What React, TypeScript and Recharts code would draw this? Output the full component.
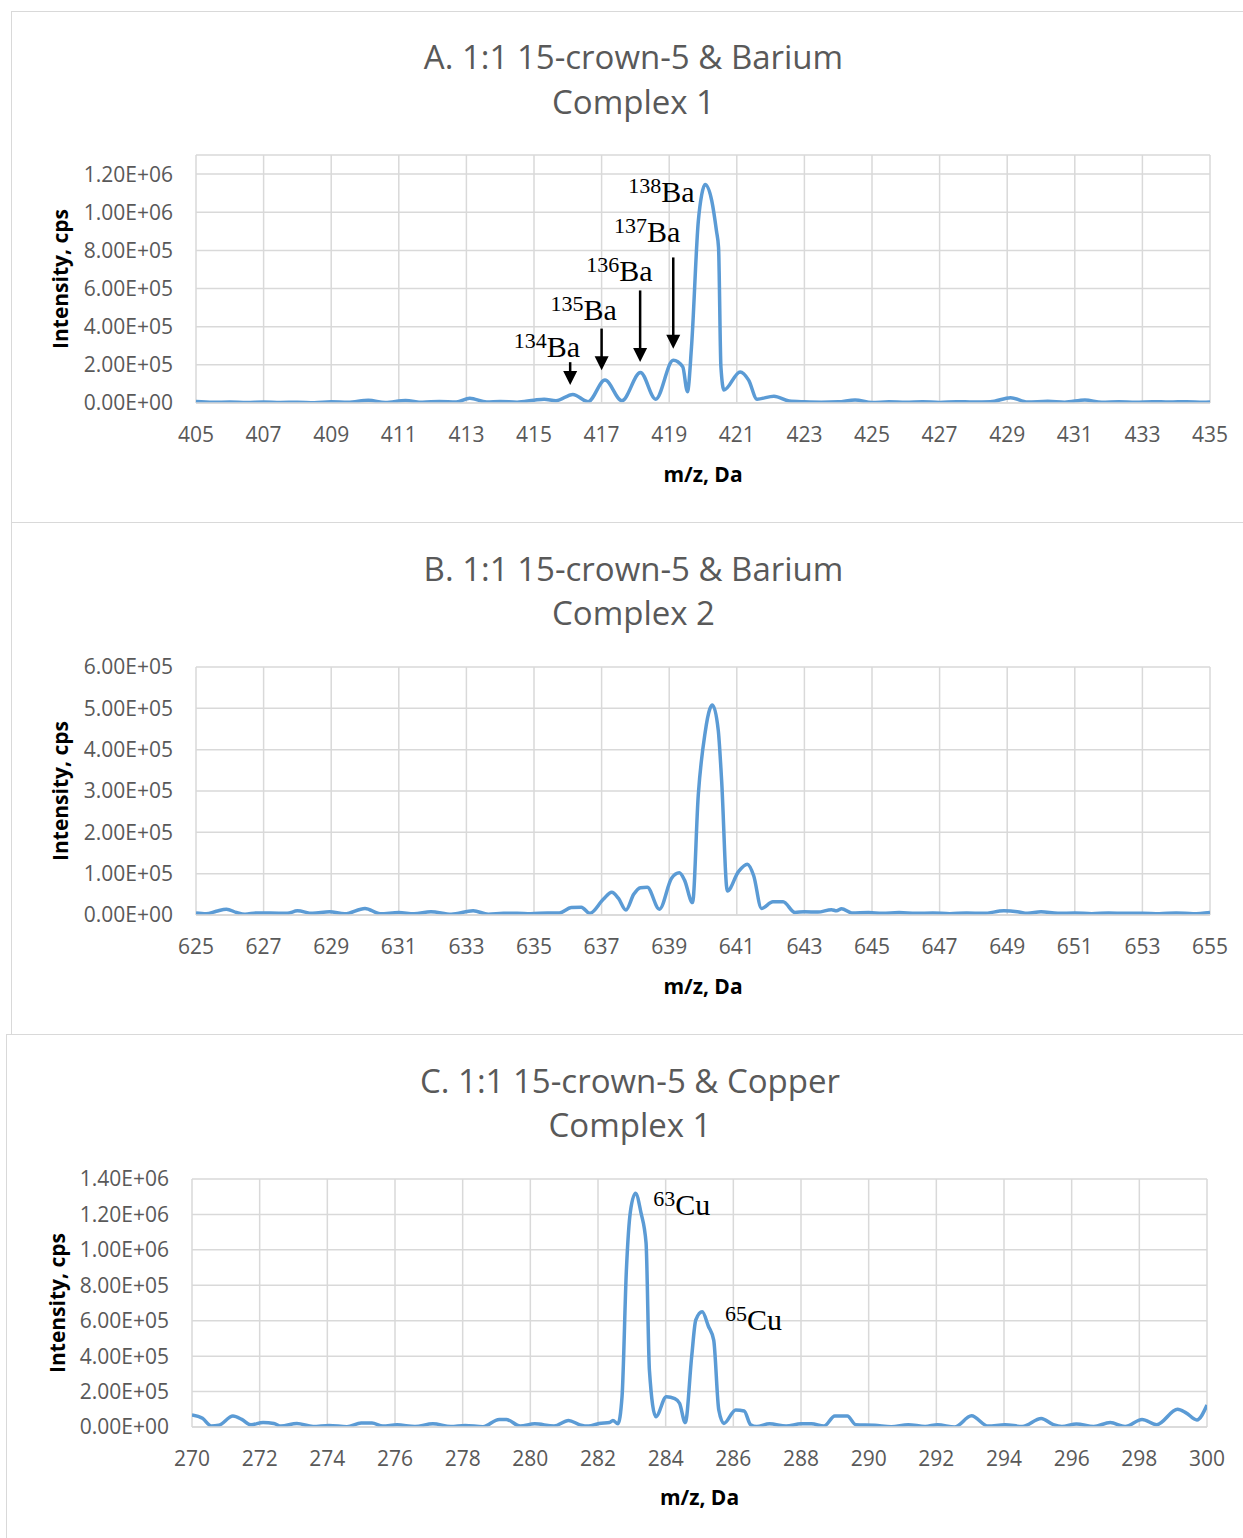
import React from 'react';
import { LineChart, Line, XAxis, YAxis, CartesianGrid, ReferenceLine, ReferenceDot } from 'recharts';

// Panel A: 15-crown-5 + Ba, complex 1
const mzA = [405.0, 405.5, 406.0, 406.5, 407.0, 407.5, 408.0, 408.5, 409.0, 409.5, 410.1, 410.6, 411.2, 411.7, 412.2, 412.7, 413.1, 413.6, 414.0, 414.5, 415.0, 415.3, 415.65, 416.15, 416.6, 417.1, 417.6, 418.15, 418.6, 419.12, 419.4, 419.54, 419.66, 419.86, 419.96, 420.06, 420.26, 420.4, 420.46, 420.53, 420.62, 421.1, 421.35, 421.6, 422.1, 422.55, 423.0, 423.5, 424.0, 424.5, 425.0, 425.5, 426.0, 426.5, 427.0, 427.5, 428.0, 428.5, 429.1, 429.6, 430.2, 430.7, 431.3, 431.8, 432.3, 432.8, 433.3, 433.8, 434.3, 434.8, 435.0];
const intA = [8000, 4000, 5000, 3000, 5000, 3000, 4000, 1000, 6000, 4000, 14000, 3000, 13000, 4000, 8000, 5000, 25000, 5000, 8000, 4000, 15000, 20000, 12000, 45000, 7000, 120000, 12000, 160000, 20000, 224000, 190000, 59000, 294000, 950000, 1090000, 1146000, 1060000, 900000, 815000, 190000, 68000, 163000, 120000, 20000, 36000, 10000, 6000, 4000, 6000, 16000, 3000, 6000, 4000, 7000, 3000, 7000, 5000, 6000, 28000, 5000, 9000, 4000, 16000, 4000, 7000, 4000, 7000, 5000, 7000, 4000, 5000];

// Panel B: 15-crown-5 + Ba, complex 2
const mzB = [625.0, 625.3, 625.6, 625.9, 626.2, 626.45, 626.8, 627.2, 627.7, 628.0, 628.45, 628.95, 629.4, 630.0, 630.45, 631.0, 631.45, 631.95, 632.55, 633.2, 633.65, 634.1, 634.5, 634.9, 635.4, 635.75, 636.1, 636.4, 636.65, 637.05, 637.3, 637.5, 637.72, 637.95, 638.15, 638.35, 638.71, 639.07, 639.3, 639.45, 639.69, 639.86, 640.06, 640.2, 640.28, 640.45, 640.55, 640.72, 641.05, 641.31, 641.5, 641.73, 642.07, 642.37, 642.72, 643.0, 643.4, 643.8, 643.95, 644.1, 644.4, 644.9, 645.3, 645.8, 646.3, 646.8, 647.3, 647.8, 648.3, 648.9, 649.3, 649.6, 650.0, 650.5, 651.0, 651.5, 652.0, 652.5, 653.0, 653.5, 654.0, 654.5, 655.0];
const intB = [5000, 3000, 9000, 14000, 6000, 2000, 5000, 5000, 4000, 10000, 4000, 8000, 3000, 16000, 3000, 6000, 3000, 8000, 2000, 10000, 2000, 4000, 4000, 3000, 5000, 5000, 18000, 19000, 4000, 38000, 55000, 40000, 12000, 50000, 66000, 67000, 14000, 89000, 102000, 85000, 30000, 290000, 440000, 498000, 508000, 448000, 327000, 58000, 105000, 123000, 95000, 16000, 32000, 32000, 6000, 8000, 7000, 13000, 10000, 15000, 5000, 6000, 4000, 6000, 4000, 5000, 3000, 5000, 4000, 10000, 8000, 4000, 8000, 4000, 5000, 3000, 5000, 4000, 4000, 3000, 5000, 3000, 6000];

// Panel C: 15-crown-5 + Cu, complex 1
const mzC = [270.0, 270.31, 270.57, 270.79, 271.21, 271.47, 271.74, 272.1, 272.42, 272.63, 273.1, 273.58, 274.05, 274.58, 275.0, 275.32, 275.64, 276.06, 276.59, 277.12, 277.65, 278.07, 278.6, 279.08, 279.29, 279.7, 280.13, 280.7, 281.13, 281.47, 281.72, 282.03, 282.34, 282.44, 282.59, 282.71, 282.84, 282.96, 283.11, 283.27, 283.42, 283.52, 283.71, 284.02, 284.27, 284.41, 284.58, 284.77, 284.89, 285.08, 285.26, 285.42, 285.57, 285.72, 286.07, 286.32, 286.51, 286.69, 287.07, 287.56, 288.0, 288.31, 288.68, 289.0, 289.37, 289.62, 290.18, 290.67, 291.17, 291.67, 292.04, 292.54, 293.04, 293.53, 294.03, 294.54, 295.1, 295.46, 295.71, 296.14, 296.65, 297.14, 297.58, 298.08, 298.51, 299.13, 299.38, 299.7, 300.0];
const intC = [68000, 49000, 6000, 10000, 62000, 43000, 12000, 26000, 20000, 5000, 20000, 3000, 9000, 2000, 22000, 22000, 5000, 12000, 3000, 18000, 3000, 9000, 2000, 43000, 43000, 5000, 18000, 6000, 37000, 12000, 5000, 20000, 25000, 37000, 18000, 170000, 890000, 1220000, 1320000, 1210000, 1040000, 320000, 58000, 171000, 160000, 134000, 25000, 400000, 604000, 650000, 570000, 490000, 96000, 20000, 96000, 90000, 13000, 3000, 18000, 5000, 18000, 18000, 5000, 62000, 62000, 13000, 10000, 2000, 13000, 3000, 13000, 0, 63000, 5000, 13000, 3000, 48000, 13000, 3000, 17000, 3000, 25000, 3000, 43000, 13000, 100000, 80000, 40000, 124000];

const xTicksA = [405, 407, 409, 411, 413, 415, 417, 419, 421, 423, 425, 427, 429, 431, 433, 435];
const xTicksB = [625, 627, 629, 631, 633, 635, 637, 639, 641, 643, 645, 647, 649, 651, 653, 655];
const xTicksC = [270, 272, 274, 276, 278, 280, 282, 284, 286, 288, 290, 292, 294, 296, 298, 300];
const yTicksA = [0, 200000, 400000, 600000, 800000, 1000000, 1200000];
const yTicksB = [0, 100000, 200000, 300000, 400000, 500000, 600000];
const yTicksC = [0, 200000, 400000, 600000, 800000, 1000000, 1200000, 1400000];

// isotope annotations (data coordinates)
const baMass = ['134', '135', '136', '137', '138'];
const baLabelMz = [416.36, 417.45, 418.51, 419.33, 419.75];
const baLabelInt = [242000, 433000, 642000, 842000, 1055000];
const baArrowMz = [416.07, 417.0, 418.14, 419.12];
const baArrowTop = [214000, 390000, 590000, 763000];
const baArrowTip = [94000, 172000, 215000, 285000];
const cuMass = ['63', '65'];
const cuLabelMz = [283.63, 285.75];
const cuLabelInt = [1197000, 548000];

const BLUE = '#5B9BD5';
const GRID = '#D9D9D9';
const GREY = '#595959';
const SANS = '"Open Sans", sans-serif';
const SERIF = '"Liberation Serif", "Times New Roman", serif';

const sci = (v: number) => {
  const [m, e] = v.toExponential(2).split('e');
  const n = Number(e);
  return `${m}E${n < 0 ? '-' : '+'}${String(Math.abs(n)).padStart(2, '0')}`;
};

const toRows = (mz: number[], vals: number[]) => mz.map((x, i) => ({ mz: x, v: vals[i] }));

const arrowShape = (p: any) => {
  const { x1, y1, x2, y2 } = p;
  const head = 14;
  return (
    <g>
      <line x1={x1} y1={y1} x2={x2} y2={y2 - head + 2} stroke="#000" strokeWidth={2.5} />
      <polygon points={`${x2 - 7},${y2 - head} ${x2 + 7},${y2 - head} ${x2},${y2}`} fill="#000" />
    </g>
  );
};

const isoLabel = (mass: string, el: string, anchor: 'start' | 'end') => (p: any) => (
  <text x={p.cx} y={p.cy} textAnchor={anchor} fontFamily={SERIF} fill="#000">
    <tspan fontSize={22} dy={-9}>{mass}</tspan>
    <tspan fontSize={30} dy={9}>{el}</tspan>
  </text>
);

type PanelCfg = {
  boxLeft: number; boxTop: number; boxHeight: number;
  plotLeft: number; plotRight: number; plotTop: number; plotBottom: number;
  titleCx: number; title: string[]; titleY: number[];
  rows: { mz: number; v: number }[];
  xDomain: [number, number]; xTicks: number[];
  yMax: number; yTicks: number[];
  xLabelY: number; yLabelX: number;
};

function Panel({ cfg, children }: { cfg: PanelCfg; children?: React.ReactNode }) {
  const W = 1243;
  const chartH = cfg.boxHeight;
  const margin = {
    top: cfg.plotTop - cfg.boxTop,
    left: cfg.plotLeft - 60,
    right: W - cfg.plotRight,
    bottom: cfg.boxTop + chartH - cfg.plotBottom - 30,
  };
  const tick = { fill: GREY, fontSize: 21, fontFamily: SANS };
  const axisTitle: React.CSSProperties = {
    position: 'absolute', fontFamily: SANS, fontWeight: 700, fontSize: 21, color: '#000',
    whiteSpace: 'nowrap', transform: 'translate(-50%, -50%)',
  };
  return (
    <>
      <div style={{
        position: 'absolute', left: cfg.boxLeft, top: cfg.boxTop, width: 1300, height: cfg.boxHeight,
        border: `1.5px solid ${GRID}`, boxSizing: 'border-box', background: '#fff',
      }} />
      {cfg.title.map((t, i) => (
        <div key={t} style={{
          position: 'absolute', left: cfg.titleCx, top: cfg.titleY[i], transform: 'translate(-50%, -50%)',
          fontFamily: SANS, fontSize: 33, color: GREY, whiteSpace: 'nowrap', lineHeight: 1,
        }}>{t}</div>
      ))}
      <div style={{ position: 'absolute', left: 0, top: cfg.boxTop }}>
        <LineChart width={W} height={chartH} data={cfg.rows} margin={margin}>
          <CartesianGrid stroke={GRID} strokeWidth={1.5} />
          <XAxis
            dataKey="mz" type="number" domain={cfg.xDomain} ticks={cfg.xTicks} interval={0}
            tickLine={false} tickSize={0} tickMargin={24} height={30}
            axisLine={{ stroke: GRID, strokeWidth: 1.5 }} tick={tick} allowDataOverflow
          />
          <YAxis
            type="number" domain={[0, cfg.yMax]} ticks={cfg.yTicks} interval={0} tickFormatter={sci}
            axisLine={false} tickLine={false} tickSize={0} tickMargin={23} width={60} tick={tick}
            allowDataOverflow
          />
          <Line type="monotone" dataKey="v" stroke={BLUE} strokeWidth={3.5} dot={false} isAnimationActive={false} />
          {children}
        </LineChart>
      </div>
      <div style={{ ...axisTitle, left: (cfg.plotLeft + cfg.plotRight) / 2, top: cfg.xLabelY }}>m/z, Da</div>
      <div style={{
        ...axisTitle, left: cfg.yLabelX, top: (cfg.plotTop + cfg.plotBottom) / 2,
        transform: 'translate(-50%, -50%) rotate(-90deg)',
      }}>Intensity, cps</div>
    </>
  );
}

const panelA: PanelCfg = {
  boxLeft: 11, boxTop: 11, boxHeight: 512,
  plotLeft: 196, plotRight: 1210, plotTop: 155, plotBottom: 403,
  titleCx: 633.5, title: ['A. 1:1 15-crown-5 & Barium', 'Complex 1'], titleY: [56, 101],
  rows: toRows(mzA, intA), xDomain: [405, 435], xTicks: xTicksA, yMax: 1300000, yTicks: yTicksA,
  xLabelY: 474, yLabelX: 60,
};
const panelB: PanelCfg = {
  boxLeft: 11, boxTop: 522, boxHeight: 513,
  plotLeft: 196, plotRight: 1210, plotTop: 667, plotBottom: 915,
  titleCx: 633.5, title: ['B. 1:1 15-crown-5 & Barium', 'Complex 2'], titleY: [568, 612],
  rows: toRows(mzB, intB), xDomain: [625, 655], xTicks: xTicksB, yMax: 600000, yTicks: yTicksB,
  xLabelY: 986, yLabelX: 60,
};
const panelC: PanelCfg = {
  boxLeft: 6, boxTop: 1034, boxHeight: 520,
  plotLeft: 192, plotRight: 1207, plotTop: 1179, plotBottom: 1427,
  titleCx: 630, title: ['C. 1:1 15-crown-5 & Copper', 'Complex 1'], titleY: [1080, 1124],
  rows: toRows(mzC, intC), xDomain: [270, 300], xTicks: xTicksC, yMax: 1400000, yTicks: yTicksC,
  xLabelY: 1497, yLabelX: 57,
};

export default function App() {
  return (
    <div style={{ position: 'absolute', left: 0, top: 0, width: 1243, height: 1538, overflow: 'hidden', background: '#fff' }}>
      <Panel cfg={panelA}>
        {baArrowMz.map((m, i) => (
          <ReferenceLine key={`arr${i}`} segment={[{ x: m, y: baArrowTop[i] }, { x: m, y: baArrowTip[i] }]}
            shape={arrowShape} ifOverflow="visible" />
        ))}
        {baMass.map((m, i) => (
          <ReferenceDot key={`ba${m}`} x={baLabelMz[i]} y={baLabelInt[i]} r={0}
            shape={isoLabel(m, 'Ba', 'end')} ifOverflow="visible" />
        ))}
      </Panel>
      <Panel cfg={panelB} />
      <Panel cfg={panelC}>
        {cuMass.map((m, i) => (
          <ReferenceDot key={`cu${m}`} x={cuLabelMz[i]} y={cuLabelInt[i]} r={0}
            shape={isoLabel(m, 'Cu', 'start')} ifOverflow="visible" />
        ))}
      </Panel>
    </div>
  );
}
